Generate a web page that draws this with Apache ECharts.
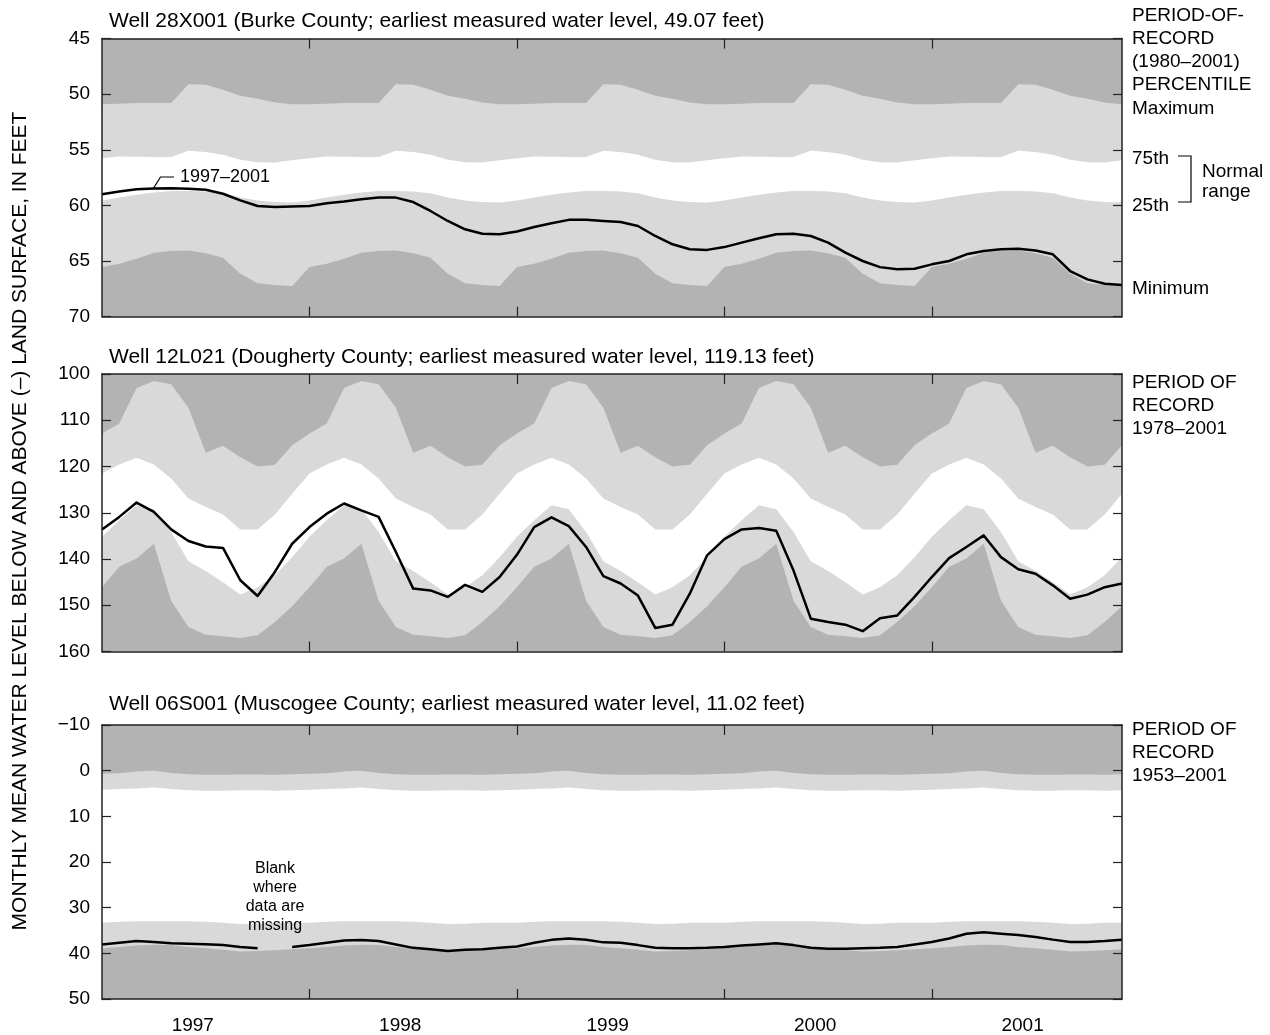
<!DOCTYPE html>
<html><head><meta charset="utf-8">
<script src="https://cdn.jsdelivr.net/npm/echarts@6/dist/echarts.min.js"></script>
<style>html,body{margin:0;padding:0;background:#fff}#c{width:1270px;height:1035px}</style>
</head><body><div id="c"></div>
<script>
// ---------- DATA ----------
const yearLabels = ['1997', '1998', '1999', '2000', '2001'];
const yearTickMonths = [12, 24, 36, 48];
const yearLabelMonths = [5.25, 17.25, 29.25, 41.25, 53.25];

// Well 28X001 (Burke County) — monthly period-of-record percentiles (12 months), feet below land surface
const burkeMax = [50.9, 50.85, 50.8, 50.8, 50.8, 49.1, 49.15, 49.6, 50.15, 50.4, 50.75, 50.9];
const burkeP75 = [55.75, 55.6, 55.62, 55.65, 55.65, 55.08, 55.2, 55.45, 55.9, 56.13, 56.15, 55.95];
const burkeP25 = [59.55, 59.3, 59.05, 58.85, 58.7, 58.7, 58.75, 58.9, 59.3, 59.55, 59.7, 59.75];
const burkeMin = [65.55, 65.25, 64.8, 64.25, 64.1, 64.05, 64.3, 64.7, 66.15, 67.0, 67.15, 67.25];
const burkeObs = [59.0, 58.75, 58.55, 58.47, 58.45, 58.5, 58.6, 58.95, 59.55, 60.05, 60.15, 60.1,
  60.05, 59.8, 59.65, 59.45, 59.3, 59.3, 59.7, 60.5, 61.4, 62.15, 62.55, 62.6,
  62.35, 61.95, 61.6, 61.3, 61.3, 61.4, 61.5, 61.85, 62.75, 63.5, 63.95, 64.0,
  63.75, 63.35, 62.95, 62.6, 62.55, 62.75, 63.35, 64.25, 65.0, 65.55, 65.75, 65.7,
  65.3, 65.0, 64.4, 64.1, 63.95, 63.9, 64.05, 64.4, 65.9, 66.65, 67.05, 67.15];

// Well 12L021 (Dougherty County)
const doughMax = [112.85, 110.7, 103.0, 101.5, 102.2, 107.3, 117.0, 115.5, 118.0, 120.0, 119.6, 115.4];
const doughP75 = [121.5, 119.55, 118.1, 119.55, 122.6, 126.9, 128.75, 130.4, 133.6, 133.6, 130.4, 125.9];
const doughP25 = [135.2, 131.6, 128.4, 129.25, 134.15, 140.5, 142.6, 145.0, 147.7, 146.1, 143.5, 139.6];
const doughMin = [146.1, 141.7, 139.9, 136.7, 149.0, 154.7, 156.4, 156.7, 157.1, 156.5, 153.6, 150.2];
const doughObs = [133.6, 130.9, 127.8, 129.8, 133.6, 136.1, 137.3, 137.6, 144.6, 148.0, 142.8, 136.7,
  133.1, 130.2, 128.0, 129.5, 130.9, 138.5, 146.4, 146.8, 148.2, 145.6, 147.1, 143.9,
  139.1, 133.1, 131.0, 132.9, 137.4, 143.7, 145.3, 147.9, 154.9, 154.2, 147.5, 139.2,
  135.7, 133.6, 133.3, 133.9, 142.5, 152.9, 153.6, 154.2, 155.6, 152.8, 152.2, 148.2,
  143.9, 139.8, 137.4, 134.9, 139.6, 142.2, 143.2, 145.7, 148.6, 147.7, 146.1, 145.3];

// Well 06S001 (Muscogee County)
const muscMax = [0.7, 0.55, 0.2, 0.0, 0.5, 0.8, 0.9, 0.9, 0.85, 0.85, 0.9, 0.8];
const muscP75 = [4.2, 4.0, 3.9, 3.7, 4.0, 4.3, 4.4, 4.4, 4.3, 4.3, 4.4, 4.3];
const muscP25 = [33.3, 33.1, 33.0, 33.0, 33.0, 33.0, 33.1, 33.3, 33.6, 33.5, 33.3, 33.3];
const muscMin = [38.9, 38.6, 38.3, 38.1, 38.2, 38.6, 38.9, 39.2, 39.6, 39.5, 39.3, 39.1];
const muscObs = [38.05, 37.7, 37.3, 37.5, 37.8, 37.9, 38.0, 38.2, 38.6, 38.9, null, 38.6,
  38.2, 37.7, 37.2, 37.1, 37.3, 38.05, 38.8, 39.1, 39.5, 39.2, 39.1, 38.8,
  38.5, 37.7, 37.05, 36.75, 37.05, 37.6, 37.7, 38.2, 38.8, 38.9, 38.9, 38.8,
  38.6, 38.3, 38.05, 37.8, 38.2, 38.8, 39.0, 39.0, 38.9, 38.8, 38.6, 38.05,
  37.5, 36.75, 35.7, 35.4, 35.7, 36.0, 36.4, 37.0, 37.5, 37.5, 37.3, 37.0];

const titles = [
  'Well 28X001 (Burke County; earliest measured water level, 49.07 feet)',
  'Well 12L021 (Dougherty County; earliest measured water level, 119.13 feet)',
  'Well 06S001 (Muscogee County; earliest measured water level, 11.02 feet)'
];
const yRanges = [[45, 70, 5], [100, 160, 10], [-10, 50, 10]];

// ---------- BUILD ----------
const FONT = '"Liberation Sans", Arial, Helvetica, sans-serif';
const DARK = '#b3b3b3', LIGHT = '#d9d9d9', AX = '#222';
const panels = [
  { max: burkeMax, p75: burkeP75, p25: burkeP25, min: burkeMin, obs: burkeObs },
  { max: doughMax, p75: doughP75, p25: doughP25, min: doughMin, obs: doughObs },
  { max: muscMax, p75: muscP75, p25: muscP25, min: muscMin, obs: muscObs }
];
const gridBoxes = [
  { left: 102, top: 38.6, width: 1020, height: 278 },
  { left: 102, top: 374, width: 1020, height: 277.5 },
  { left: 102, top: 725, width: 1020, height: 274 }
];
const titleTops = [11, 347, 694];

function tile(obs, monthly) { return obs.map((_, i) => [i, monthly[i % 12]]); }
function pairs(arr) { return arr.map((v, i) => [i, v]); }
const minusFmt = v => (v < 0 ? '\u2212' + Math.abs(v) : String(v));

const grid = [], xAxis = [], yAxis = [], series = [], title = [];
panels.forEach((p, g) => {
  grid.push(Object.assign({ show: true, backgroundColor: DARK, borderWidth: 0, containLabel: false }, gridBoxes[g]));
  title.push({ text: titles[g], left: 109, top: titleTops[g], padding: 0,
    textStyle: { fontSize: 21, fontWeight: 'normal', color: '#000', fontFamily: FONT } });
  const xBase = { type: 'value', gridIndex: g, min: 0, max: 59, z: 10, splitLine: { show: false },
    axisLine: { show: true, onZero: false, lineStyle: { color: AX, width: 1.5 } },
    axisTick: { show: true, inside: true, length: 10, customValues: yearTickMonths, lineStyle: { color: AX, width: 1.2 } } };
  xAxis.push(Object.assign({}, xBase, { position: 'bottom',
    axisLabel: { show: g === 2, customValues: yearLabelMonths, margin: 17, fontSize: 19, color: '#000', fontFamily: FONT,
      formatter: v => yearLabels[Math.round((v - 5.25) / 12)] } }));
  xAxis.push(Object.assign({}, xBase, { position: 'top', axisLabel: { show: false } }));
  const [mn, mx, st] = yRanges[g];
  const yBase = { type: 'value', gridIndex: g, inverse: true, min: mn, max: mx, interval: st, z: 10,
    splitLine: { show: false },
    axisLine: { show: true, onZero: false, lineStyle: { color: AX, width: 1.5 } },
    axisTick: { show: true, inside: true, length: 9, lineStyle: { color: AX, width: 1.2 } } };
  yAxis.push(Object.assign({}, yBase, { position: 'left',
    axisLabel: { show: true, margin: 12, fontSize: 19, color: '#000', fontFamily: FONT, formatter: minusFmt } }));
  yAxis.push(Object.assign({}, yBase, { position: 'right', axisLabel: { show: false } }));
  const xi = g * 2, yi = g * 2;
  const band = (data, color, z) => ({ type: 'line', xAxisIndex: xi, yAxisIndex: yi, data, symbol: 'none', silent: true,
    z, lineStyle: { width: 0, opacity: 0 }, areaStyle: { color, opacity: 1, origin: 'end' }, animation: false });
  series.push(band(tile(p.obs, p.max), LIGHT, 2));
  series.push(band(tile(p.obs, p.p75), '#ffffff', 3));
  series.push(band(tile(p.obs, p.p25), LIGHT, 4));
  series.push(band(tile(p.obs, p.min), DARK, 5));
  series.push({ type: 'line', xAxisIndex: xi, yAxisIndex: yi, data: pairs(p.obs), symbol: 'none', silent: true,
    z: 6, connectNulls: false, lineStyle: { color: '#000', width: 2.5, join: 'round' }, animation: false });
});

function txt(x, y, text, size, align) {
  return { type: 'text', x, y, z: 100, silent: true,
    style: { text, fontSize: size || 19, fontFamily: FONT, fill: '#000', align: align || 'left', verticalAlign: 'middle' } };
}
const graphic = [
  txt(1132, 16, 'PERIOD-OF-'), txt(1132, 38.7, 'RECORD'), txt(1132, 62, '(1980\u20132001)'), txt(1132, 84.6, 'PERCENTILE'),
  txt(1132, 109, 'Maximum'), txt(1132, 158.7, '75th'), txt(1132, 205.3, '25th'),
  txt(1202, 172, 'Normal'), txt(1202, 191.3, 'range'), txt(1132, 288.7, 'Minimum'),
  { type: 'polyline', z: 100, silent: true, shape: { points: [[1178, 156], [1191, 156], [1191, 202], [1178, 202]] },
    style: { stroke: '#000', lineWidth: 1.2, fill: null } },
  txt(1132, 382.7, 'PERIOD OF'), txt(1132, 405.7, 'RECORD'), txt(1132, 428.7, '1978\u20132001'),
  txt(1132, 729.5, 'PERIOD OF'), txt(1132, 752.5, 'RECORD'), txt(1132, 775.5, '1953\u20132001'),
  txt(180, 177, '1997\u20132001', 18),
  { type: 'polyline', z: 100, silent: true, shape: { points: [[153, 189], [160.5, 177], [174, 177]] },
    style: { stroke: '#000', lineWidth: 1.2, fill: null } },
  { type: 'text', x: 275, y: 897, z: 100, silent: true,
    style: { text: 'Blank\nwhere\ndata are\nmissing', fontSize: 16, lineHeight: 19, fontFamily: FONT, fill: '#000',
      align: 'center', verticalAlign: 'middle' } },
  { type: 'text', x: 20, y: 521, rotation: Math.PI / 2, z: 100, silent: true,
    style: { text: 'MONTHLY MEAN WATER LEVEL BELOW AND ABOVE (\u2013) LAND SURFACE, IN FEET', fontSize: 21,
      fontFamily: FONT, fill: '#000', align: 'center', verticalAlign: 'middle' } }
];

const chart = echarts.init(document.getElementById('c'), null, { renderer: 'canvas' });
chart.setOption({ animation: false, backgroundColor: '#fff', title, grid, xAxis, yAxis, series, graphic,
  textStyle: { fontFamily: FONT } });
</script></body></html>
